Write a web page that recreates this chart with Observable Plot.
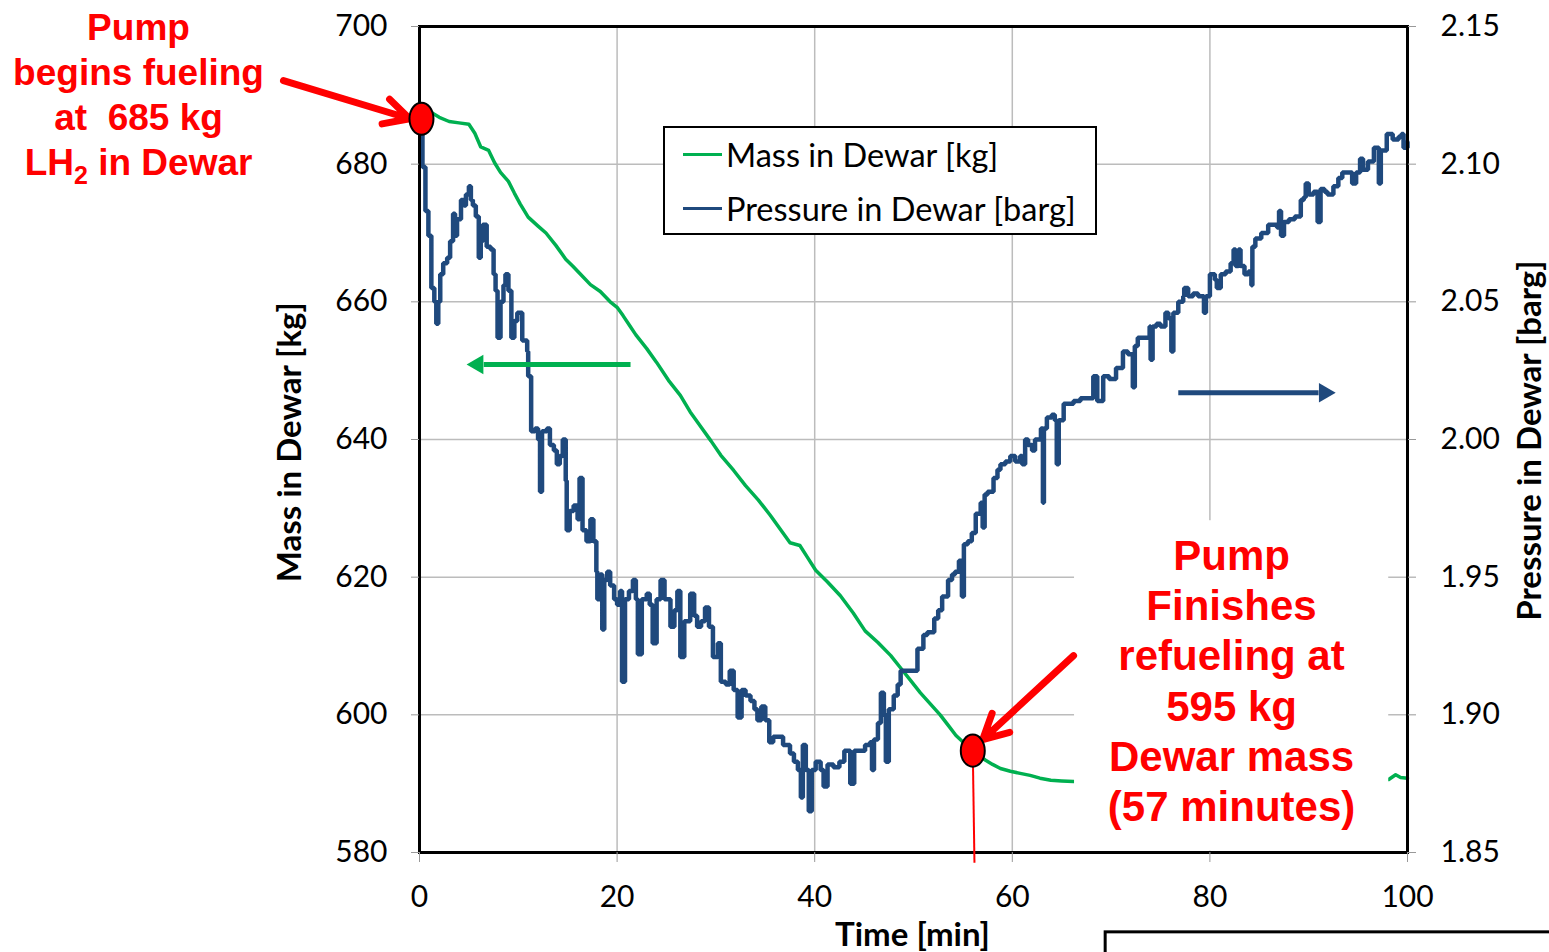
<!DOCTYPE html>
<html>
<head>
<meta charset="utf-8">
<script src="https://cdn.jsdelivr.net/npm/d3@7"></script>
<script src="https://cdn.jsdelivr.net/npm/@observablehq/plot@0.6"></script>
<style>
  html, body { margin: 0; padding: 0; background: #fff; }
  #wrap { position: relative; width: 1549px; height: 952px; overflow: hidden; }
  #legend { position: absolute; left: 663px; top: 126px; width: 434px; height: 109px; box-sizing: border-box;
    border: 2px solid #000; background: #fff; font-family: Lato, "Open Sans", sans-serif; font-size: 32.5px; color: #000; }
  #legend .row { position: absolute; left: 0; height: 40px; display: flex; align-items: center; }
  #legend .sw { width: 39px; height: 3px; margin-left: 18px; margin-right: 4px; }
</style>
</head>
<body>
<div id="wrap"></div>
<script>
// ---------- data ----------
const massTicks = [580, 600, 620, 640, 660, 680, 700];
const pressureTicks = [1.85, 1.90, 1.95, 2.00, 2.05, 2.10, 2.15];
const timeTicks = [0, 20, 40, 60, 80, 100];

const massTime = [0, 1.2, 2.0, 3.0, 4.0, 5.0, 5.6, 6.2, 7.0, 7.6, 8.2, 9.0, 9.6, 10.2, 11.0, 12.0, 12.8, 13.8, 14.8, 15.5,
  16.3, 17.3, 18.3, 19.3, 20.0, 20.6, 21.3, 21.9, 23.0, 24.0, 25.2, 26.4, 27.4, 28.4, 29.5, 30.5, 31.8, 33.0, 34.3, 35.5,
  36.5, 37.5, 38.5, 39.3, 40.1, 41.3, 42.6, 43.9, 45.1, 46.4, 47.7, 48.7, 49.7, 50.7, 51.7, 52.7, 53.5, 54.3, 55.2, 56.0,
  56.7, 57.3, 58.0, 58.8, 59.8, 60.8, 61.8, 62.8, 63.9, 65.0, 66.2, 70, 75, 80, 85, 90, 95, 98.1, 98.8, 99.3, 100];
const massKg = [686.5, 687.5, 686.8, 686.2, 686.0, 685.8, 684.5, 682.5, 682.0, 680.2, 678.8, 677.5, 675.8, 674.2, 672.3, 671.0, 670.0, 668.2, 666.2, 665.2,
  664.0, 662.5, 661.5, 660.0, 659.2, 658.0, 656.5, 655.2, 653.2, 651.2, 648.6, 646.4, 644.0, 642.0, 639.8, 637.7, 635.5, 633.3, 631.2, 629.0,
  627.0, 625.0, 624.6, 622.8, 621.0, 619.3, 617.3, 614.8, 612.2, 610.5, 608.6, 606.8, 605.0, 603.2, 601.6, 600.0, 598.5, 597.0, 595.8, 594.8,
  594.0, 593.4, 592.8, 592.2, 591.8, 591.5, 591.2, 590.8, 590.5, 590.4, 590.3, 590.3, 590.4, 590.4, 590.5, 590.5, 590.6, 590.6, 591.3, 590.9, 590.8];

const pressureTime = [0.0, 0.3, 0.6, 0.9, 1.2, 1.5, 1.7, 1.9, 2.1, 2.4, 2.8, 3.1, 3.4, 3.6, 3.8, 4.2, 4.5, 4.7, 5.0, 5.2,
  5.4, 5.7, 6.0, 6.2, 6.4, 6.8, 7.2, 7.5, 7.7, 7.9, 8.2, 8.5, 8.7, 9.0, 9.3, 9.6, 9.9, 10.4, 10.9, 11.0,
  11.3, 11.7, 12.0, 12.2, 12.4, 12.9, 13.2, 13.6, 13.9, 14.2, 14.5, 14.8, 14.9, 15.2, 15.6, 16.0, 16.2, 16.5, 16.9, 17.3,
  17.6, 17.9, 18.0, 18.3, 18.5, 18.7, 19.0, 19.3, 19.7, 20.0, 20.3, 20.5, 20.8, 21.2, 21.6, 21.9, 22.1, 22.5, 23.0, 23.3,
  23.6, 24.0, 24.4, 24.8, 25.4, 25.8, 26.1, 26.4, 26.8, 27.4, 27.8, 28.1, 28.5, 28.9, 29.3, 29.7, 30.2, 30.5, 31.0, 31.4,
  31.8, 32.2, 32.6, 33.0, 33.5, 33.9, 34.2, 34.6, 35.0, 35.4, 35.8, 36.3, 36.8, 37.5, 37.9, 38.3, 38.6, 38.8, 39.1, 39.4,
  39.7, 40.1, 40.6, 40.9, 41.3, 41.9, 42.5, 43.0, 43.3, 43.6, 44.0, 44.6, 45.1, 45.6, 45.8, 46.0, 46.4, 46.7, 47.0, 47.2,
  47.5, 48.0, 48.4, 48.7, 49.2, 49.7, 50.4, 51.0, 51.4, 52.1, 52.5, 52.9, 53.5, 53.9, 54.2, 54.6, 54.9, 55.1, 55.5, 55.9,
  56.3, 56.8, 57.0, 57.2, 57.5, 58.1, 58.5, 58.8, 59.3, 59.8, 60.3, 60.8, 61.0, 61.3, 61.6, 62.0, 62.3, 62.8, 62.9, 63.1,
  63.2, 63.5, 64.0, 64.3, 64.5, 64.7, 65.2, 65.7, 66.2, 66.9, 67.5, 68.2, 68.6, 69.2, 69.8, 70.5, 71.2, 71.7, 72.2, 72.4,
  72.7, 73.3, 73.9, 74.0, 74.2, 74.6, 75.0, 75.5, 75.8, 76.1, 76.3, 76.8, 77.3, 77.4, 77.8, 78.3, 78.8, 79.4, 79.6, 80.0,
  80.5, 80.7, 81.1, 81.6, 82.1, 82.4, 82.6, 82.9, 83.1, 83.5, 83.9, 84.2, 84.3, 84.6, 85.2, 85.9, 86.4, 86.8, 87.0, 87.2,
  87.5, 88.0, 88.6, 89.2, 89.5, 89.7, 90.0, 90.5, 90.9, 91.2, 91.6, 91.9, 92.5, 93.0, 93.4, 94.0, 94.4, 94.8, 95.2, 95.5,
  96.0, 96.6, 97.1, 97.3, 97.9, 98.5, 99.1, 99.4, 99.6, 100.0];
const pressureBarg = [2.117, 2.099, 2.083, 2.074, 2.055, 2.050, 2.042, 2.050, 2.060, 2.064, 2.066, 2.072, 2.082, 2.074, 2.080, 2.087, 2.085, 2.089, 2.092, 2.087,
  2.085, 2.081, 2.066, 2.072, 2.078, 2.070, 2.069, 2.060, 2.054, 2.037, 2.050, 2.056, 2.060, 2.054, 2.037, 2.043, 2.046, 2.036, 2.032, 2.023,
  2.003, 2.004, 2.000, 1.981, 2.003, 2.004, 1.998, 1.996, 1.991, 1.994, 2.000, 1.985, 1.967, 1.974, 1.976, 1.971, 1.986, 1.967, 1.963, 1.971,
  1.963, 1.952, 1.942, 1.951, 1.931, 1.949, 1.952, 1.947, 1.942, 1.940, 1.945, 1.912, 1.942, 1.945, 1.949, 1.942, 1.922, 1.942, 1.944, 1.940,
  1.926, 1.942, 1.949, 1.942, 1.932, 1.938, 1.945, 1.921, 1.934, 1.944, 1.936, 1.932, 1.934, 1.939, 1.932, 1.921, 1.926, 1.912, 1.911, 1.916,
  1.909, 1.899, 1.909, 1.907, 1.905, 1.902, 1.898, 1.903, 1.898, 1.890, 1.892, 1.892, 1.889, 1.886, 1.883, 1.880, 1.870, 1.889, 1.880, 1.865,
  1.880, 1.883, 1.880, 1.874, 1.882, 1.881, 1.883, 1.887, 1.887, 1.875, 1.887, 1.887, 1.889, 1.890, 1.880, 1.891, 1.897, 1.908, 1.900, 1.883,
  1.902, 1.907, 1.911, 1.916, 1.916, 1.916, 1.924, 1.929, 1.930, 1.935, 1.938, 1.943, 1.949, 1.951, 1.952, 1.956, 1.943, 1.962, 1.963, 1.966,
  1.973, 1.977, 1.968, 1.980, 1.981, 1.986, 1.989, 1.991, 1.992, 1.994, 1.992, 1.994, 1.991, 2.000, 1.998, 1.996, 2.000, 2.000, 2.004, 1.977,
  2.004, 2.008, 2.009, 2.007, 1.991, 2.007, 2.013, 2.013, 2.014, 2.015, 2.015, 2.023, 2.014, 2.023, 2.022, 2.026, 2.032, 2.031, 2.019, 2.034,
  2.037, 2.037, 2.041, 2.029, 2.041, 2.042, 2.041, 2.046, 2.044, 2.032, 2.046, 2.050, 2.052, 2.055, 2.052, 2.053, 2.052, 2.046, 2.052, 2.060,
  2.058, 2.055, 2.060, 2.061, 2.064, 2.069, 2.063, 2.069, 2.063, 2.060, 2.061, 2.056, 2.070, 2.073, 2.075, 2.078, 2.078, 2.077, 2.083, 2.074,
  2.079, 2.080, 2.081, 2.087, 2.088, 2.093, 2.089, 2.090, 2.079, 2.091, 2.090, 2.089, 2.092, 2.095, 2.097, 2.097, 2.093, 2.097, 2.102, 2.098,
  2.101, 2.106, 2.093, 2.105, 2.111, 2.109, 2.110, 2.111, 2.106, 2.108];

const legendLabels = ["Mass in Dewar [kg]", "Pressure in Dewar [barg]"];
const axisTitles = {x: "Time [min]", yLeft: "Mass in Dewar [kg]", yRight: "Pressure in Dewar [barg]"};
const startNote = ["Pump", "begins fueling", "at\u00a0 685 kg", "LH2 in Dewar"];
const endNote = ["Pump", "Finishes", "refueling at", "595 kg", "Dewar mass", "(57 minutes)"];
// event points (time, mass)
const startEvent = {t: 0.2, m: 686.6};
const endEvent = {t: 56.0, m: 594.8};

// ---------- build ----------
const massDomain = [580, 700];
const pressureDomain = [1.85, 2.15];
const p2m = d3.scaleLinear(pressureDomain, massDomain);

const massData = massTime.map((t, i) => ({t, v: massKg[i]}));
const pressureData = pressureTime.map((t, i) => ({t, v: p2m(pressureBarg[i])}));

const GREEN = "#00b050", BLUE = "#1f497d", RED = "#ff0000", GRID = "#bcbcbc";
const ARIAL = "'Liberation Sans', Arial, sans-serif";
const CAL = "Lato, 'Open Sans', sans-serif";

// ellipse symbol for the event markers
const ellipse = {
  draw(ctx, size) {
    const r = Math.sqrt(size / Math.PI), a = r * 0.8, b = r * 1.07, k = 0.5523;
    ctx.moveTo(a, 0);
    ctx.bezierCurveTo(a, k * b, k * a, b, 0, b);
    ctx.bezierCurveTo(-k * a, b, -a, k * b, -a, 0);
    ctx.bezierCurveTo(-a, -k * b, -k * a, -b, 0, -b);
    ctx.bezierCurveTo(k * a, -b, a, -k * b, a, 0);
    ctx.closePath();
  }
};

const chart = Plot.plot({
  width: 1549,
  height: 952,
  marginLeft: 419,
  marginRight: 142,
  marginTop: 26,
  marginBottom: 100,
  style: {background: "transparent", overflow: "visible"},
  x: {domain: [0, 100]},
  y: {domain: massDomain},
  marks: [
    Plot.ruleX(timeTicks.filter(d => d > 0 && d < 100), {stroke: GRID, strokeWidth: 1.5}),
    Plot.ruleY(massTicks.filter(d => d > 580 && d < 700), {stroke: GRID, strokeWidth: 1.5}),
    Plot.line(massData, {x: "t", y: "v", stroke: GREEN, strokeWidth: 3.5}),
    Plot.line(pressureData, {x: "t", y: "v", stroke: BLUE, strokeWidth: 4.5, curve: "step-after", strokeLinejoin: "miter"}),
    // white box behind end annotation
    Plot.rect([{x1: 66.3, x2: 98.1, y1: 580.2, y2: 628.2}], {x1: "x1", x2: "x2", y1: "y1", y2: "y2", fill: "#fff"}),
    Plot.frame({stroke: "#000", strokeWidth: 3}),
    Plot.axisY({ticks: massTicks, anchor: "left", tickSize: 8, tickPadding: 24, stroke: "#999", fill: "#000",
      fontSize: 30, fontFamily: CAL, tickFormat: d => String(d), label: null}),
    Plot.axisY({ticks: pressureTicks.map(p2m), anchor: "right", tickSize: 8, tickPadding: 25, stroke: "#999", fill: "#000",
      fontSize: 30, fontFamily: CAL, tickFormat: d => p2m.invert(d).toFixed(2), label: null}),
    Plot.axisX({ticks: timeTicks, anchor: "bottom", tickSize: 10, tickPadding: 23, stroke: "#999", fill: "#000",
      fontSize: 30, fontFamily: CAL, tickFormat: d => String(d), label: null}),
    // axis titles
    Plot.text([axisTitles.x], {x: 49.9, y: 567.9, text: d => d, fontSize: 33, fontWeight: "bold", fontFamily: CAL, fill: "#000"}),
    Plot.text([axisTitles.yLeft], {x: -13.06, y: 639.6, text: d => d, rotate: -90, fontSize: 33, fontWeight: "bold", fontFamily: CAL, fill: "#000"}),
    Plot.text([axisTitles.yRight], {x: 112.45, y: 639.85, text: d => d, rotate: -90, fontSize: 33, fontWeight: "bold", fontFamily: CAL, fill: "#000"}),
    // direction arrows
    Plot.link([{x1: 21.36, x2: 6.5, y: 650.9}], {x1: "x1", x2: "x2", y1: "y", y2: "y", stroke: GREEN, strokeWidth: 5}),
    Plot.dot([{x: 5.9, y: 650.9}], {x: "x", y: "y", symbol: "triangle", rotate: -90, r: 7.2, fill: GREEN, stroke: "none"}),
    Plot.link([{x1: 76.8, x2: 91.0, y: 646.8}], {x1: "x1", x2: "x2", y1: "y", y2: "y", stroke: BLUE, strokeWidth: 5}),
    Plot.dot([{x: 91.6, y: 646.8}], {x: "x", y: "y", symbol: "triangle", rotate: 90, r: 7.2, fill: BLUE, stroke: "none"}),
    // red annotations
    Plot.link([{x1: endEvent.t, y1: endEvent.m, x2: 56.17, y2: 578.5}], {x1: "x1", y1: "y1", x2: "x2", y2: "y2", stroke: RED, strokeWidth: 2}),
    Plot.arrow([{x1: -13.77, y1: 692.15, x2: -1.0, y2: 686.6}], {x1: "x1", y1: "y1", x2: "x2", y2: "y2", stroke: RED, strokeWidth: 7, headLength: 6, headAngle: 55}),
    Plot.arrow([{x1: 66.2, y1: 608.6, x2: 57.0, y2: 596.4}], {x1: "x1", y1: "y1", x2: "x2", y2: "y2", stroke: RED, strokeWidth: 7, headLength: 6, headAngle: 55}),
    Plot.dot([startEvent, endEvent], {x: "t", y: "m", symbol: ellipse, r: 15, fill: RED, stroke: "#000", strokeWidth: 2}),
    Plot.text([startNote.join("\n")], {x: -28.44, y: 702.66, text: d => d, lineAnchor: "top", lineHeight: 1.216,
      fontSize: 37, fontWeight: "bold", fontFamily: ARIAL, fill: RED, className: "start-note"}),
    Plot.text([endNote.join("\n")], {x: 82.19, y: 626.2, text: d => d, lineAnchor: "top", lineHeight: 1.195,
      fontSize: 42, fontWeight: "bold", fontFamily: ARIAL, fill: RED}),
    // partial box at the bottom right
    Plot.rect([{x1: 69.45, x2: 120, y1: 568.4, y2: 560}], {x1: "x1", x2: "x2", y1: "y1", y2: "y2", fill: "none", stroke: "#000", strokeWidth: 3})
  ]
});

// subscript 2 in "LH2"
chart.querySelectorAll("tspan").forEach(ts => {
  if (ts.textContent === "LH2 in Dewar") {
    ts.textContent = "LH";
    const ns = "http://www.w3.org/2000/svg";
    const sub = document.createElementNS(ns, "tspan");
    sub.setAttribute("dy", "9");
    sub.setAttribute("font-size", "25");
    sub.textContent = "2";
    const rest = document.createElementNS(ns, "tspan");
    rest.setAttribute("dy", "-9");
    rest.textContent = " in Dewar";
    ts.appendChild(sub);
    ts.appendChild(rest);
  }
});

const wrap = document.getElementById("wrap");
wrap.appendChild(chart);

// legend
const legend = document.createElement("div");
legend.id = "legend";
[GREEN, BLUE].forEach((c, i) => {
  const row = document.createElement("div");
  row.className = "row";
  row.style.top = (i === 0 ? 6 : 60) + "px";
  const sw = document.createElement("span");
  sw.className = "sw";
  sw.style.background = c;
  const lab = document.createElement("span");
  lab.textContent = legendLabels[i];
  row.appendChild(sw);
  row.appendChild(lab);
  legend.appendChild(row);
});
wrap.appendChild(legend);
</script>
</body>
</html>
